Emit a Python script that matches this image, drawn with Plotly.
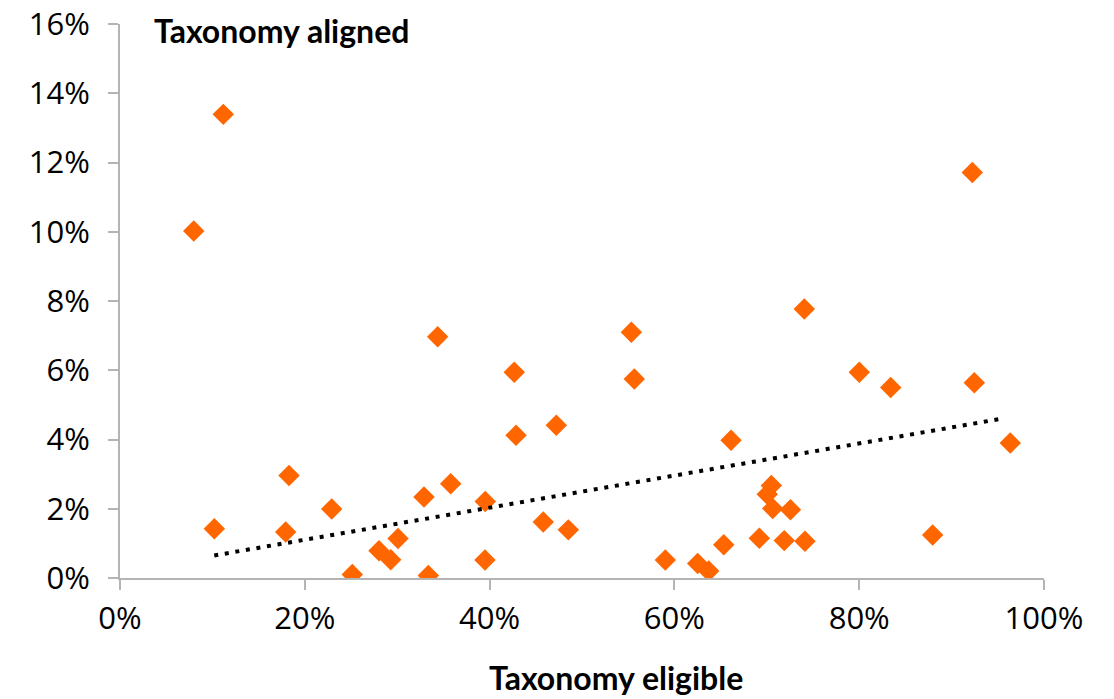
import plotly.graph_objects as go

# Share of activities that are taxonomy eligible (x) vs taxonomy aligned (y), in %
eligible = [7.98, 11.18, 10.21, 18.29, 17.93, 22.91, 25.14, 28.03, 29.30, 30.09,
            32.90, 33.37, 34.38, 35.79, 39.53, 39.50, 42.67, 42.86, 47.22, 45.81,
            48.52, 55.34, 55.66, 59.02, 62.52, 63.71, 65.34, 66.13, 69.19, 70.05,
            70.49, 70.64, 71.89, 72.56, 74.13, 74.06, 80.01, 83.41, 87.95, 92.24,
            92.46, 96.35]
aligned = [10.02, 13.39, 1.42, 2.96, 1.33, 1.99, 0.10, 0.79, 0.53, 1.14,
           2.34, 0.07, 6.97, 2.72, 2.21, 0.52, 5.94, 4.12, 4.41, 1.62,
           1.39, 7.10, 5.75, 0.52, 0.42, 0.20, 0.96, 3.98, 1.15, 2.42,
           2.67, 2.01, 1.08, 1.97, 1.06, 7.77, 5.94, 5.50, 1.24, 11.71,
           5.64, 3.90]

# Linear trendline end points, in %
trend_eligible = [10.2, 95.4]
trend_aligned = [0.65, 4.60]

x = [v / 100 for v in eligible]
y = [v / 100 for v in aligned]
tx = [v / 100 for v in trend_eligible]
ty = [v / 100 for v in trend_aligned]

TICK_FONT = dict(family="Open Sans, Noto Sans, sans-serif", size=31, color="#000000")
TITLE_FONT = dict(family="Lato, sans-serif", size=32, color="#000000")
AXIS_COLOR = "#b4b4b4"

fig = go.Figure()
fig.add_trace(go.Scatter(
    x=x, y=y, mode="markers",
    marker=dict(symbol="diamond", size=16.5, color="#FF6600", line=dict(width=0)),
    hoverinfo="x+y", showlegend=False,
))
fig.add_trace(go.Scatter(
    x=tx, y=ty, mode="lines",
    line=dict(color="#000000", width=4, dash="4px,6.7px"),
    hoverinfo="skip", showlegend=False,
))

fig.update_layout(
    width=1114, height=699,
    margin=dict(l=120, r=70, t=24, b=121),
    paper_bgcolor="white", plot_bgcolor="white",
    xaxis=dict(
        range=[0, 1], tickmode="linear", tick0=0, dtick=0.2, tickformat=".0%",
        showgrid=False, zeroline=False, showline=True, linecolor=AXIS_COLOR, linewidth=2,
        ticks="outside", ticklen=10, tickwidth=2, tickcolor=AXIS_COLOR,
        tickfont=TICK_FONT, ticklabelstandoff=2, automargin=False,
    ),
    yaxis=dict(
        range=[0, 0.16], tickmode="linear", tick0=0, dtick=0.02, tickformat=".0%",
        showgrid=False, zeroline=False, showline=True, linecolor=AXIS_COLOR, linewidth=2,
        ticks="outside", ticklen=10, tickwidth=2, tickcolor=AXIS_COLOR,
        tickfont=TICK_FONT, ticklabelstandoff=12, automargin=False,
    ),
    annotations=[
        dict(text="<b>Taxonomy aligned</b>", xref="paper", yref="paper",
             x=(152 - 120) / 924, y=1.0, xanchor="left", yanchor="middle",
             yshift=-6, showarrow=False, font=TITLE_FONT),
        dict(text="<b>Taxonomy eligible</b>", xref="paper", yref="paper",
             x=(616 - 120) / 924, y=0, xanchor="center", yanchor="middle",
             yshift=-(677 - 578), showarrow=False, font=TITLE_FONT),
    ],
)

fig.write_html("out.html")
